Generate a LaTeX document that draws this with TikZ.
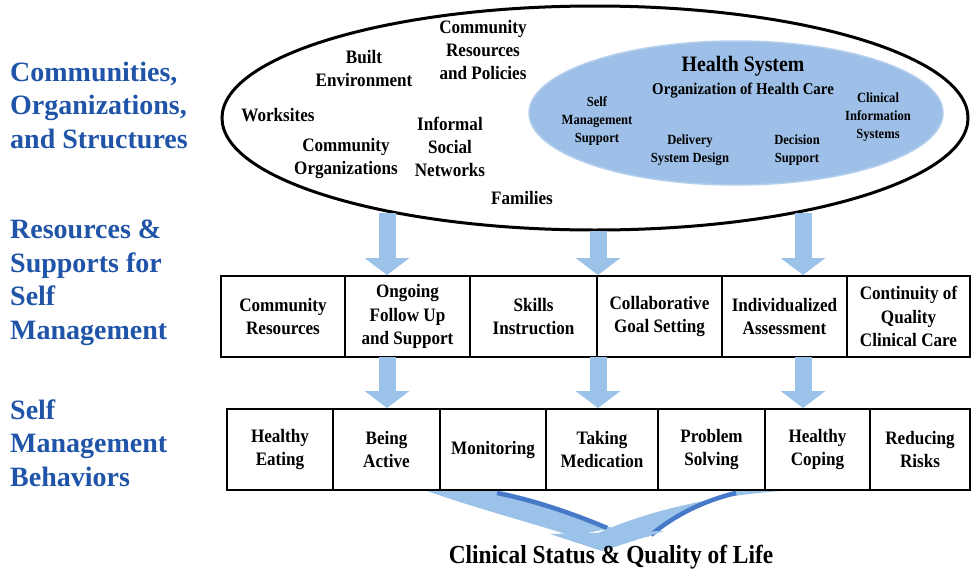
\documentclass[tikz,border=0pt]{standalone}
\usepackage{fontspec}
\setmainfont{Liberation Serif}
\newfontfamily\narrowserif[FakeStretch=0.9]{Liberation Serif}
\usetikzlibrary{arrows.meta,shapes.geometric}
\definecolor{headblue}{RGB}{31,84,168}
\definecolor{hsfill}{RGB}{157,191,232}
\definecolor{hsedge}{RGB}{180,206,238}
\definecolor{arrowblue}{RGB}{155,194,232}
\definecolor{arrowdark}{RGB}{70,122,200}

\begin{document}
\begin{tikzpicture}[x=1pt,y=-1pt,
  heading/.style={anchor=west, align=left, text=headblue,
    font=\fontsize{28}{33.5}\selectfont\bfseries, inner sep=0pt},
  item/.style={align=center, font=\narrowserif\fontsize{19}{23}\selectfont\bfseries, inner sep=0pt},
  smallitem/.style={align=center, font=\narrowserif\fontsize{14}{18}\selectfont\bfseries, inner sep=0pt},
  cell/.style={draw, line width=2pt, align=center,
    font=\narrowserif\fontsize{19}{23.5}\selectfont\bfseries, inner sep=0pt, minimum height=81pt},
  blockarrow/.style={arrowblue, line width=17pt, -{Triangle[width=44pt,length=17pt]}},
]
\useasboundingbox (0,0) rectangle (971,573);

% ---- level headings ----
\node[heading] (h1) at (10,105) {Communities,\\Organizations,\\and Structures};
\node[heading] (h2) at (10,283) {Resources \&\\Supports for\\Self\\Management};
\node[heading] (h3) at (10,443) {Self\\Management\\Behaviors};

% ---- community ellipse ----
\node[draw, ellipse, line width=3pt, minimum width=746pt, minimum height=224pt, inner sep=0pt]
  (outer) at (595,118) {};
\node[ellipse, fill=hsfill, draw=hsedge, line width=1.5pt, minimum width=414pt, minimum height=144pt, inner sep=0pt]
  (hs) at (736,113) {};

\node[item] (built) at (364,68.5) {Built\\Environment};
\node[item] (crp) at (483,50) {Community\\Resources\\and Policies};
\node[item] (work) at (278,115) {Worksites};
\node[item] (corg) at (346,158.5) {Community\\Organizations};
\node[item] (isn) at (450,147) {Informal\\Social\\Networks};
\node[item] (fam) at (522,198) {Families};

\node[align=center, font=\narrowserif\fontsize{22}{24}\selectfont\bfseries, inner sep=0pt] (hstitle) at (743,66) {Health System};
\node[align=center, font=\narrowserif\fontsize{16.5}{18}\selectfont\bfseries, inner sep=0pt] (ohc) at (743,91) {Organization of Health Care};
\node[smallitem] (sms) at (597,121) {Self\\Management\\Support};
\node[smallitem] (dsd) at (690,150.5) {Delivery\\System Design};
\node[smallitem] (dsup) at (797,150.5) {Decision\\Support};
\node[smallitem] (cis) at (878,117) {Clinical\\Information\\Systems};

% ---- resources & supports row ----
\node[cell, minimum width=124pt] (cr) at (283,316.5) {Community\\Resources};
\node[cell, minimum width=125pt] (og) at (407.5,316.5) {Ongoing\\Follow Up\\and Support};
\node[cell, minimum width=127pt] (sk) at (533.5,316.5) {Skills\\Instruction};
\node[cell, minimum width=125pt] (cg) at (659.5,316.5) {Collaborative\\Goal Setting};
\node[cell, minimum width=125pt] (ia) at (784.5,316.5) {Individualized\\Assessment};
\node[cell, minimum width=123pt] (cq) at (908.5,316.5) {Continuity of\\Quality\\Clinical Care};

% ---- behaviours row ----
\node[cell, minimum width=106pt] (he) at (280,449.5) {Healthy\\Eating};
\node[cell, minimum width=107pt] (ba) at (386.5,449.5) {Being\\Active};
\node[cell, minimum width=106pt] (mo) at (493,449.5) {Monitoring};
\node[cell, minimum width=112pt] (tm) at (602,449.5) {Taking\\Medication};
\node[cell, minimum width=107pt] (ps) at (711.5,449.5) {Problem\\Solving};
\node[cell, minimum width=105pt] (hc) at (817.5,449.5) {Healthy\\Coping};
\node[cell, minimum width=100pt] (rr) at (920,449.5) {Reducing\\Risks};

% ---- downward block arrows ----
\coordinate (a1) at (387,213);
\coordinate (a2) at (598,231);
\coordinate (a3) at (803,213);
\draw[blockarrow] (a1) -- (a1 |- og.north);
\draw[blockarrow] (a2) -- (a2 |- sk.north);
\draw[blockarrow] (a3) -- (a3 |- ia.north);

\coordinate (b1) at (387,357);
\coordinate (b2) at (598,357);
\coordinate (b3) at (803,357);
\draw[blockarrow] (b1) -- (b1 |- ba.north);
\draw[blockarrow] (b2) -- (b2 |- tm.north);
\draw[blockarrow] (b3) -- (b3 |- hc.north);

% ---- merging arrow to outcomes ----
% left branch, shaded along its upper edge
\fill[arrowblue] (427,491) .. controls (475,508) and (535,524) .. (572,536)
  -- (612,528) .. controls (575,512) and (535,498) .. (500,491) -- cycle;
\draw[arrowdark, line width=4.5pt] (497,493) .. controls (532,500) and (572,513) .. (607,528);
% right branch, shaded along its lower edge
\fill[arrowblue] (780,491) .. controls (705,497) and (645,512) .. (596,534)
  -- (648,537) .. controls (670,518) and (700,500) .. (735,491) -- cycle;
\draw[arrowdark, line width=4.5pt] (736,493) .. controls (702,501) and (672,517) .. (651,535);
% arrowhead
\fill[arrowblue] (550,534) -- (664,531) -- (602,551) -- cycle;

\node[font=\narrowserif\fontsize{26}{28}\selectfont\bfseries, inner sep=0pt] (outcome) at (611,557) {Clinical Status \& Quality of Life};
\end{tikzpicture}
\end{document}
